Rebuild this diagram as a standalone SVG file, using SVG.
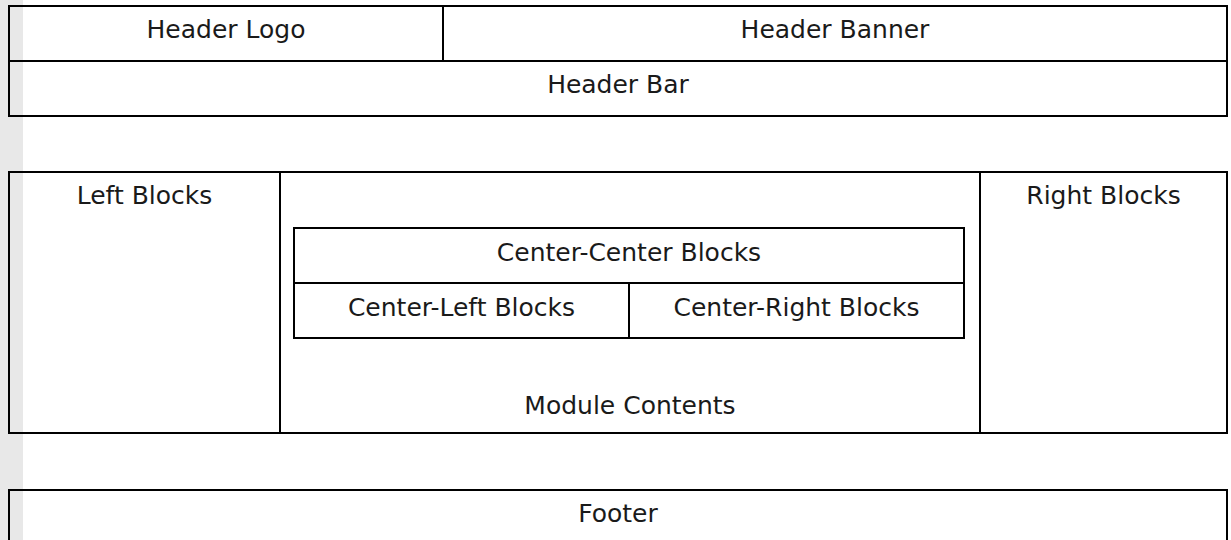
<svg xmlns="http://www.w3.org/2000/svg" width="1231" height="540" viewBox="0 0 1231 540">
<style>
.box{fill:none;stroke:#000;stroke-width:2}
.ln{stroke:#000;stroke-width:2}
text{font-family:"DejaVu Sans","Verdana",sans-serif;font-size:25px;fill:#1a1a1a;text-anchor:middle}
</style>
<rect x="0" y="0" width="1231" height="540" fill="#fff"/>
<rect x="0" y="0" width="23" height="540" fill="#e8e8e8"/>
<g id="header">
<rect class="box" x="9" y="6" width="1218" height="110"/>
<g id="header-logo"><text x="226" y="38">Header Logo</text></g>
<g id="header-banner"><text x="835" y="38">Header Banner</text></g>
<g id="header-bar"><text x="618" y="93">Header Bar</text></g>
</g>
<g id="middle">
<rect class="box" x="9" y="172" width="1218" height="261"/>
<g id="left-blocks"><text x="144.5" y="204">Left Blocks</text></g>
<g id="right-blocks"><text x="1103.5" y="204">Right Blocks</text></g>
<g id="center">
<rect class="box" x="294" y="228" width="670" height="110"/>
<g id="center-center"><text x="629" y="261">Center-Center Blocks</text></g>
<g id="center-left"><text x="461.5" y="316">Center-Left Blocks</text></g>
<g id="center-right"><text x="796.5" y="316">Center-Right Blocks</text></g>
</g>
<g id="module-contents"><text x="630" y="414">Module Contents</text></g>
</g>
<g id="footer">
<rect class="box" x="9" y="490" width="1218" height="60"/>
<text x="618" y="522">Footer</text>
</g>
<g id="connectors">
<line class="ln" x1="9" y1="61" x2="1227" y2="61"/>
<line class="ln" x1="443" y1="6" x2="443" y2="61"/>
<line class="ln" x1="280" y1="172" x2="280" y2="433"/>
<line class="ln" x1="980" y1="172" x2="980" y2="433"/>
<line class="ln" x1="294" y1="283" x2="964" y2="283"/>
<line class="ln" x1="629" y1="283" x2="629" y2="338"/>
</g>
</svg>
